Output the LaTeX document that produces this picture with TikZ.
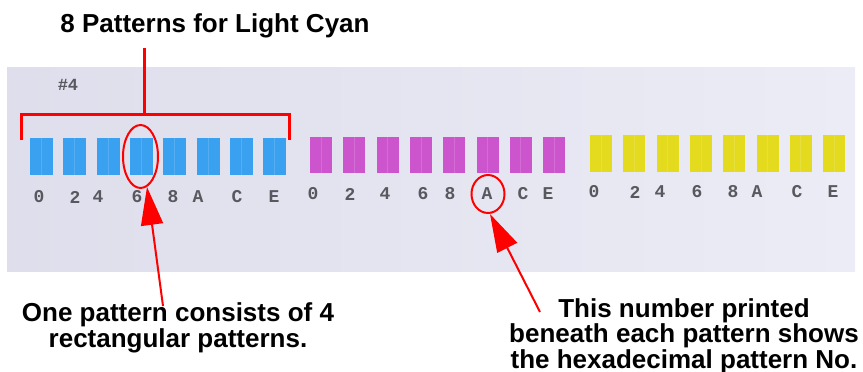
\documentclass[tikz,border=0pt]{standalone}
\usepackage{fontspec}
\setmainfont{Liberation Sans}
\newfontfamily\monofont{Liberation Mono}
\usetikzlibrary{arrows.meta,shapes.geometric}
\definecolor{photoL}{RGB}{222,222,236}
\definecolor{photoR}{RGB}{236,236,246}
\definecolor{lcyan}{RGB}{58,160,240}
\definecolor{lmag}{RGB}{204,84,204}
\definecolor{lyel}{RGB}{228,218,30}
\definecolor{numgray}{RGB}{88,88,94}
\tikzset{
  callout/.style={font=\fontsize{26}{25.5}\selectfont\bfseries, align=center, inner sep=0pt},
  patchnum/.style={font=\monofont\bfseries\fontsize{18}{18}\selectfont, text=numgray, inner sep=0pt, anchor=center},
  redline/.style={draw=red, line width=3pt},
  redring/.style={draw=red, line width=2pt, ellipse, inner sep=0pt},
  redarrow/.style={draw=red, line width=2pt, -{Triangle[length=38pt,width=22pt]}},
  divider/.style={draw=white, draw opacity=0.14, line width=0.7pt}
}
\begin{document}
\begin{tikzpicture}[x=1pt,y=-1pt]
\useasboundingbox (0,0) rectangle (863,372);
% photo background
\shade[left color=photoL, right color=photoR] (7,67) rectangle (855,271);
\node[font=\monofont\bfseries\fontsize{17}{17}\selectfont, text=numgray] (hash) at (68,85) {\#4};
% patches
\foreach \i in {0,...,7} {
  \fill[lcyan] ({30+33.3*\i},138) rectangle ({53+33.3*\i},175);
  \draw[divider] ({41.5+33.3*\i},138) -- ({41.5+33.3*\i},175);
  \fill[lmag] ({310+33.3*\i},137) rectangle ({332+33.3*\i},173);
  \draw[divider] ({321+33.3*\i},137) -- ({321+33.3*\i},173);
  \fill[lyel] ({590+33.3*\i},135) rectangle ({612+33.3*\i},172);
  \draw[divider] ({601+33.3*\i},135) -- ({601+33.3*\i},172);
}
% numbers
\foreach \x/\t [count=\k] in {39/0,75/2,98/4,137/6,173/8,198/A,237/C,274/E}
  \node[patchnum] (c\k) at (\x,197) {\t};
\foreach \x/\t [count=\k] in {313/0,350/2,385/4,423/6,450/8,487/A,523/C,548/E}
  \node[patchnum] (m\k) at (\x,194) {\t};
\foreach \x/\t [count=\k] in {594/0,635/2,660/4,697/6,733/8,757/A,797/C,833/E}
  \node[patchnum] (y\k) at (\x,192) {\t};
% title and bracket
\node[font=\fontsize{26}{26}\selectfont\bfseries, anchor=base, inner sep=0pt] (title) at (215,32) {8 Patterns for Light Cyan};
\coordinate (stemtop) at (144,48);
\coordinate (stembot) at (144,114);
\coordinate (brL) at (21.5,114);
\coordinate (brR) at (289,114);
\coordinate (brLd) at (21.5,140);
\coordinate (brRd) at (289,140);
\draw[redline] (stemtop) -- (stembot);
\draw[redline] (brLd) -- (brL) -- (brR) -- (brRd);
% rings
\node[redring, minimum width=35pt, minimum height=63pt] (ring6) at (140.5,156.5) {};
\node[redring, minimum width=33pt, minimum height=38pt] (ringA) at (488,194) {};
% callout texts
\node[callout, anchor=base] (t1) at (178,347) {One pattern consists of 4\\rectangular patterns.};
\node[callout, anchor=base] (t2) at (684,368) {This number printed\\beneath each pattern shows\\the hexadecimal pattern No.};
% arrows
\coordinate (a1tail) at (163,306);
\coordinate (a1tip) at (147,187);
\coordinate (a2tail) at (540,312);
\coordinate (a2tip) at (490,214);
\draw[redarrow] (a1tail) -- (a1tip);
\draw[redarrow] (a2tail) -- (a2tip);
\end{tikzpicture}
\end{document}
